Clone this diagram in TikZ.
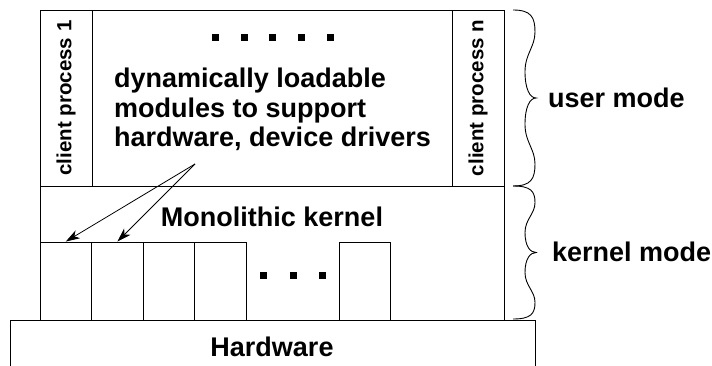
\documentclass[tikz,border=0pt]{standalone}
\usepackage{fontspec}
\setmainfont{Liberation Sans}
\usetikzlibrary{arrows.meta}
\newcommand\ModeBrace[3]{%
  \pgfmathsetmacro\bL{#1}\pgfmathsetmacro\bT{#2}\pgfmathsetmacro\bB{#3}%
  \pgfmathsetmacro\bH{(#3-#2)/2}\pgfmathsetmacro\bM{(#2+#3)/2}%
  \draw[bracestyle] (\bL,\bT)
    .. controls ({\bL+18},\bT) and ({\bL+22},{\bT+0.08*\bH}) .. ({\bL+22},{\bT+0.25*\bH})
    .. controls ({\bL+22},{\bT+0.42*\bH}) and ({\bL+12},{\bT+0.5*\bH}) .. ({\bL+12},{\bT+0.7*\bH})
    .. controls ({\bL+12},{\bT+0.9*\bH}) and ({\bL+17},\bM) .. ({\bL+23},\bM)
    .. controls ({\bL+17},\bM) and ({\bL+12},{\bB-0.9*\bH}) .. ({\bL+12},{\bB-0.7*\bH})
    .. controls ({\bL+12},{\bB-0.5*\bH}) and ({\bL+22},{\bB-0.42*\bH}) .. ({\bL+22},{\bB-0.25*\bH})
    .. controls ({\bL+22},{\bB-0.08*\bH}) and ({\bL+18},\bB) .. (\bL,\bB);%
}
\tikzset{
  box/.style={draw, line width=0.9pt, inner sep=0pt},
  modbox/.style={box, minimum width=51.6pt, minimum height=78pt},
  bigtxt/.style={font=\fontsize{27}{30}\selectfont\bfseries, inner sep=0pt},
  proctxt/.style={font=\fontsize{20.5}{22}\selectfont\bfseries, rotate=90},
  modarrow/.style={-{Stealth[length=14pt,width=9pt,inset=4pt]}, line width=0.8pt},
  bracestyle/.style={line width=0.9pt},
}
\begin{document}
\begin{tikzpicture}[x=1pt,y=-1pt]
\useasboundingbox (0,0) rectangle (712,366);
% hardware (cut by the lower edge)
\node[box, minimum width=525pt, minimum height=80pt] (hw) at (272.5,360) {};
\node[bigtxt, anchor=base] (hwt) at (272,356) {Hardware};
% user area and kernel
\node[box, minimum width=464pt, minimum height=176pt] (user) at (272,98) {};
\node[box, minimum width=464pt, minimum height=134pt] (kern) at (272,253) {};
% client processes
\node[box, proctxt, minimum width=176pt, minimum height=52pt] (cp1) at (66,98) {client process 1};
\node[box, proctxt, minimum width=176pt, minimum height=52pt] (cpn) at (478,98) {client process n};
% modules
\node[modbox] (m1) at (65.8,281) {};
\node[modbox] (m2) at (117.4,281) {};
\node[modbox] (m3) at (169,281) {};
\node[modbox] (m4) at (220.6,281) {};
\node[modbox] (m5) at (365,281) {};
% dots
\foreach \x in {215,244,272,301,330} \fill ({\x-3.5},34.5) rectangle ++(7,7);
\foreach \x in {263,293,322} \fill ({\x-3.5},272.2) rectangle ++(7,7);
% texts
\node[bigtxt, anchor=base west] (t1) at (114,88) {dynamically loadable};
\node[bigtxt, anchor=base west] (t2) at (114,117.5) {modules to support};
\node[bigtxt, anchor=base west] (t3) at (114,147) {hardware, device drivers};
\node[bigtxt, anchor=base] (mk) at (272,226) {Monolithic kernel};
% arrows
\coordinate (src) at (195,164);
\draw[modarrow] (src) -- (m1.north);
\draw[modarrow] (src) -- (m2.north);
% braces and mode labels
\ModeBrace{513}{10}{186}
\ModeBrace{513}{186}{319}
\node[bigtxt, anchor=base west] (um) at (548,108) {user mode};
\node[bigtxt, anchor=base west] (km) at (552,261.5) {kernel mode};
\end{tikzpicture}
\end{document}
